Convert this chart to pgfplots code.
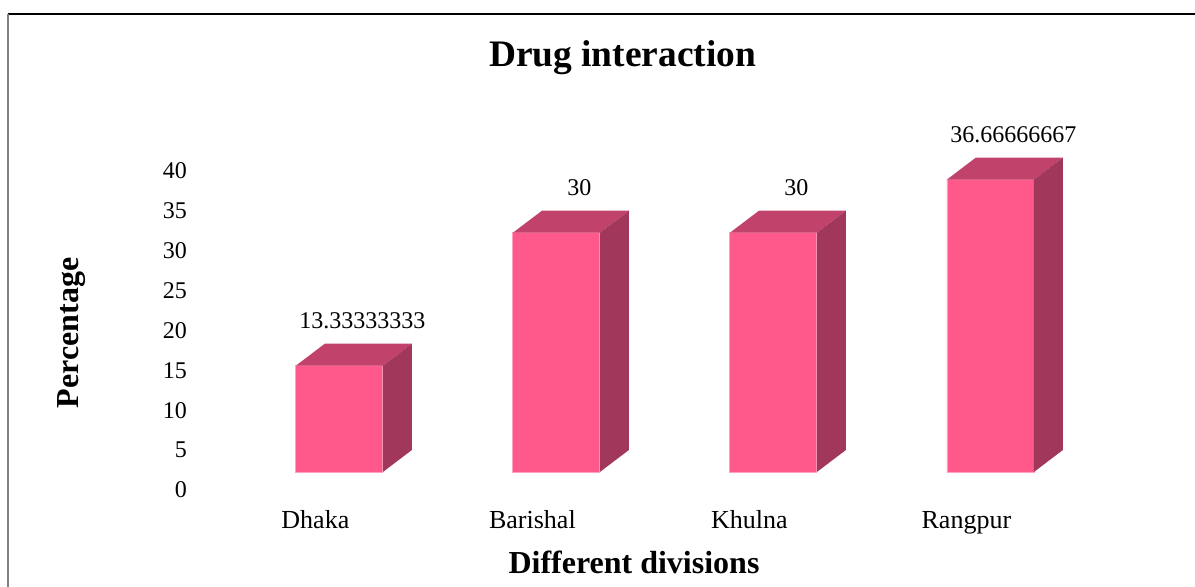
\documentclass[border=0pt]{standalone}
\usepackage{pgfplots}
\pgfplotsset{compat=1.18}
\usepackage{pgfplotstable}
\usepackage{fontspec}
\setmainfont{Liberation Serif}
\definecolor{frontc}{RGB}{255,89,140}
\definecolor{topc}{RGB}{193,67,108}
\definecolor{sidec}{RGB}{161,56,91}
\definecolor{edgec}{RGB}{255,160,190}

\pgfplotstableread{
x y lab
0 13.33333333 13.33333333
1 30 30
2 30 30
3 36.66666667 36.66666667
}\datatable

\begin{document}
\begin{tikzpicture}
\path[use as bounding box] (0,0) rectangle (597.5pt,293.5pt);
\draw[black, line width=0.6pt] (4pt,286.5pt) -- (597.5pt,286.5pt);
\draw[gray, line width=0.8pt] (4pt,286.5pt) -- (4pt,0pt);
\node[font=\bfseries\fontsize{18.7}{22}\selectfont] at (311.25pt,264.5pt) {Drug interaction};
\node[font=\bfseries\fontsize{16}{19}\selectfont, rotate=90] at (36pt,127pt) {Percentage};
\node[font=\bfseries\fontsize{16}{19}\selectfont] at (317pt,12.5pt) {Different divisions};
\begin{axis}[
  at={(97pt,57.5pt)}, anchor=south west,
  x=108.5pt, y=3.9875pt,
  xmin=-0.67, xmax=3.9, ymin=0, ymax=42,
  clip=false,
  axis line style={draw=none},
  tick style={draw=none},
  major tick length=0pt,
  ytick={0,5,...,40},
  xtick={0,1,2,3},
  xticklabels={Dhaka,Barishal,Khulna,Rangpur},
  /pgf/number format/assume math mode=true,
  yticklabel style={font=\fontsize{12}{14}\selectfont, yshift=-9pt},
  xticklabel style={font=\fontsize{13}{15}\selectfont, anchor=base, xshift=-12pt, yshift=-28.5pt},
]
\addplot[
  scatter, only marks, mark=*, mark size=0pt,
  visualization depends on={\thisrow{y} \as \rawy},
  scatter/@pre marker code/.code={%
    \pgfscope
    \pgfmathsetmacro\hh{\rawy*3.9875}%
    \pgfpathmoveto{\pgfpoint{-21.75pt}{0pt}}%
    \pgfpathlineto{\pgfpoint{-7.25pt}{11pt}}%
    \pgfpathlineto{\pgfpoint{36.25pt}{11pt}}%
    \pgfpathlineto{\pgfpoint{21.75pt}{0pt}}%
    \pgfpathclose
    \pgfsetfillcolor{topc}\pgfusepath{fill}%
    \pgfpathmoveto{\pgfpoint{21.75pt}{0pt}}%
    \pgfpathlineto{\pgfpoint{36.25pt}{11pt}}%
    \pgfpathlineto{\pgfpoint{36.25pt}{11pt-\hh pt}}%
    \pgfpathlineto{\pgfpoint{21.75pt}{-\hh pt}}%
    \pgfpathclose
    \pgfsetfillcolor{sidec}\pgfusepath{fill}%
  },
  scatter/@post marker code/.code={\endpgfscope},
] table[x=x,y=y] {\datatable};
\addplot[
  ybar, bar width=43.5pt, fill=frontc, draw=edgec, line width=0.4pt,
  point meta=explicit symbolic,
  nodes near coords,
  nodes near coords style={font=\fontsize{12}{14}\selectfont, anchor=base, yshift=18.5pt, xshift=11.5pt, text=black},
] table[x=x,y=y,meta=lab] {\datatable};
\end{axis}
\end{tikzpicture}
\end{document}
